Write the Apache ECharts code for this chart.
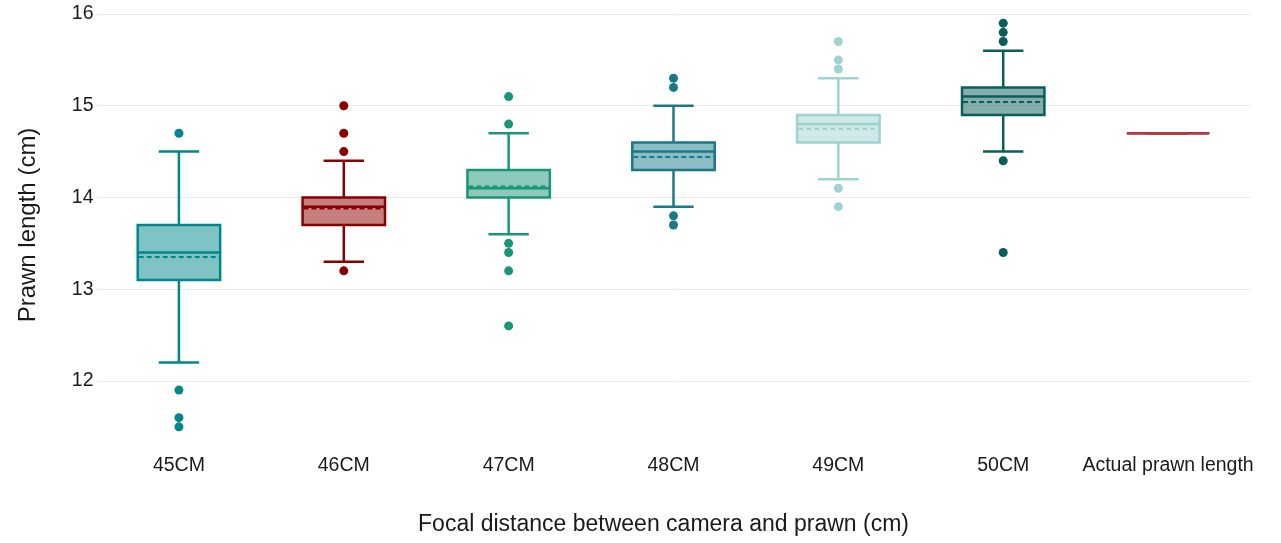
<!DOCTYPE html>
<html>
<head>
<meta charset="utf-8">
<script src="https://cdn.jsdelivr.net/npm/echarts@6/dist/echarts.min.js"></script>
<style>html,body{margin:0;padding:0;background:#fff}#c{width:1281px;height:543px}</style>
</head>
<body>
<div id="c"></div>
<script>
// ---- data ----
const categories = ['45CM', '46CM', '47CM', '48CM', '49CM', '50CM', 'Actual prawn length'];
const whiskerLow = [12.2, 13.3, 13.6, 13.9, 14.2, 14.5, 14.7];
const q1 = [13.1, 13.7, 14.0, 14.3, 14.6, 14.9, 14.7];
const median = [13.4, 13.9, 14.1, 14.5, 14.8, 15.1, 14.7];
const q3 = [13.7, 14.0, 14.3, 14.6, 14.9, 15.2, 14.7];
const whiskerHigh = [14.5, 14.4, 14.7, 15.0, 15.3, 15.6, 14.7];
const mean = [13.35, 13.88, 14.12, 14.44, 14.75, 15.04, 14.7];
const outliers45 = [14.7, 11.9, 11.6, 11.5];
const outliers46 = [15.0, 14.7, 14.5, 13.2];
const outliers47 = [15.1, 14.8, 13.5, 13.4, 13.2, 12.6];
const outliers48 = [15.3, 15.2, 13.8, 13.7];
const outliers49 = [15.7, 15.5, 15.4, 14.1, 13.9];
const outliers50 = [15.9, 15.8, 15.7, 14.4, 13.4];
const outliersAll = [outliers45, outliers46, outliers47, outliers48, outliers49, outliers50, []];

// ---- styles ----
const strokeColors = ['#01878a', '#8b0000', '#1b9577', '#197989', '#9fd3d1', '#0a5e5a', '#b5383e'];
const fillColors = ['rgba(1,135,138,0.5)', 'rgba(139,0,0,0.5)', 'rgba(27,149,119,0.5)', 'rgba(25,121,137,0.5)', 'rgba(159,211,209,0.5)', 'rgba(10,94,90,0.5)', 'rgba(181,56,62,0.5)'];

const boxData = categories.map((c, i) => [i, whiskerLow[i], q1[i], median[i], q3[i], whiskerHigh[i], mean[i]]);
const outlierData = [];
outliersAll.forEach((arr, i) => arr.forEach(v => outlierData.push([i, v])));

const chart = echarts.init(document.getElementById('c'), null, {renderer: 'canvas'});
const FONT = 'Liberation Sans, Arial, sans-serif';

function renderBox(params, api) {
  const i = api.value(0);
  const band = api.size([1, 0])[0];
  const bw = band * 0.5, cw = band * 0.245;
  const pLo = api.coord([i, api.value(1)]);
  const pQ1 = api.coord([i, api.value(2)]);
  const pMed = api.coord([i, api.value(3)]);
  const pQ3 = api.coord([i, api.value(4)]);
  const pHi = api.coord([i, api.value(5)]);
  const pMean = api.coord([i, api.value(6)]);
  const cx = pMed[0];
  const stroke = strokeColors[i];
  const lw = 2.5;
  const ls = {stroke: stroke, lineWidth: lw, fill: null};
  return {
    type: 'group',
    children: [
      {type: 'line', shape: {x1: cx, y1: pQ3[1], x2: cx, y2: pHi[1]}, style: ls},
      {type: 'line', shape: {x1: cx, y1: pQ1[1], x2: cx, y2: pLo[1]}, style: ls},
      {type: 'line', shape: {x1: cx - cw / 2, y1: pHi[1], x2: cx + cw / 2, y2: pHi[1]}, style: ls},
      {type: 'line', shape: {x1: cx - cw / 2, y1: pLo[1], x2: cx + cw / 2, y2: pLo[1]}, style: ls},
      {type: 'rect', shape: {x: cx - bw / 2, y: pQ3[1], width: bw, height: pQ1[1] - pQ3[1]},
        style: {fill: fillColors[i], stroke: stroke, lineWidth: lw}},
      {type: 'line', shape: {x1: cx - bw / 2, y1: pMed[1], x2: cx + bw / 2, y2: pMed[1]}, style: ls},
      {type: 'line', shape: {x1: cx - bw / 2 + 1, y1: pMean[1], x2: cx + bw / 2 - 1, y2: pMean[1]},
        style: {stroke: stroke, lineWidth: 2, lineDash: [5, 3], fill: null}}
    ]
  };
}

chart.setOption({
  animation: false,
  backgroundColor: '#ffffff',
  grid: {left: 96.5, right: 30.5, top: 3, bottom: 96, containLabel: false},
  xAxis: {
    type: 'category',
    data: categories,
    boundaryGap: true,
    axisLine: {show: false},
    axisTick: {show: false},
    splitLine: {show: false},
    axisLabel: {color: '#1a1a1a', fontSize: 19.5, fontFamily: FONT, margin: 9, interval: 0},
    name: 'Focal distance between camera and prawn (cm)',
    nameLocation: 'middle',
    nameGap: 66,
    nameTextStyle: {color: '#1a1a1a', fontSize: 23, fontFamily: FONT, padding: [0, 20, 0, 0]}
  },
  yAxis: {
    type: 'value',
    min: 11.28,
    max: 16.12,
    splitNumber: 5,
    axisLine: {show: false},
    axisTick: {show: false},
    axisLabel: {
      color: '#1a1a1a', fontSize: 19.5, fontFamily: FONT, margin: 3,
      padding: [4, 0, 0, 0],
      showMinLabel: false, showMaxLabel: false,
      formatter: v => (Math.abs(v - Math.round(v)) < 1e-6 ? String(Math.round(v)) : '')
    },
    splitLine: {show: true, showMinLine: false, showMaxLine: false, lineStyle: {color: '#ebebeb', width: 1}},
    name: 'Prawn length (cm)',
    nameLocation: 'middle',
    nameGap: 56,
    nameTextStyle: {color: '#1a1a1a', fontSize: 24, fontFamily: FONT}
  },
  series: [
    {
      type: 'custom',
      renderItem: renderBox,
      encode: {x: 0, y: [1, 2, 3, 4, 5]},
      data: boxData,
      z: 2
    },
    {
      type: 'scatter',
      data: outlierData,
      symbol: 'circle',
      symbolSize: 9,
      itemStyle: {color: p => strokeColors[p.data[0]], opacity: 1},
      z: 3
    }
  ]
});
</script>
</body>
</html>
